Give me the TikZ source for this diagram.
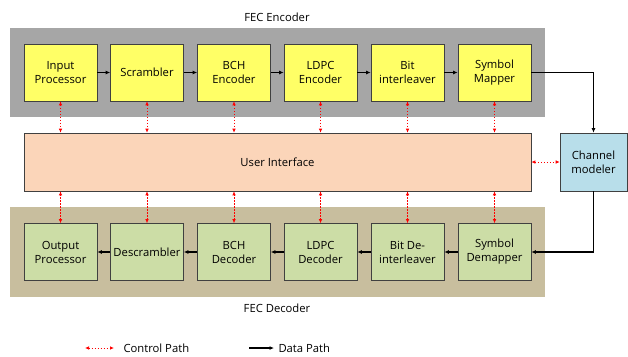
\documentclass[tikz,border=0pt]{standalone}
\usepackage{fontspec}
\setmainfont{Open Sans}
\usetikzlibrary{arrows.meta}
\definecolor{encbg}{HTML}{A6A6A6}
\definecolor{decbg}{HTML}{C8BE9E}
\definecolor{encbox}{HTML}{FFFF66}
\definecolor{decbox}{HTML}{CCDDA6}
\definecolor{uibox}{HTML}{FBD5B9}
\definecolor{chbox}{HTML}{B8DEEA}
\definecolor{ctrl}{HTML}{FF0000}
\begin{document}
\begin{tikzpicture}[x=1bp,y=-1bp,
  every node/.style={font=\fontsize{11.3}{14}\selectfont, align=center},
  blk/.style={draw=black!75, line width=0.6bp, minimum width=73bp, minimum height=57bp, inner sep=0bp},
  encblk/.style={blk, fill=encbox},
  decblk/.style={blk, fill=decbox},
  data/.style={-{Latex[length=4.5bp,width=4bp]}, line width=1.6bp, black},
  ctl/.style={{Latex[length=4bp,width=3.5bp]}-{Latex[length=4bp,width=3.5bp]}, ctrl, dash pattern=on 1.5bp off 1.5bp, line width=0.7bp}
]
\useasboundingbox (0,0) rectangle (628,356);
\fill[white] (0,0) rectangle (628,356);
% backgrounds
\fill[encbg] (10,28) rectangle (545,117);
\fill[decbg] (10,207) rectangle (545,297);
\node (enclbl) at (277,17) {FEC Encoder};
\node (declbl) at (277,308) {FEC Decoder};
% encoder blocks
\node[encblk] (e1) at (60.5,72.5) {Input\\Processor};
\node[encblk] (e2) at (147,72.5) {Scrambler};
\node[encblk] (e3) at (234,72.5) {BCH\\Encoder};
\node[encblk] (e4) at (320.5,72.5) {LDPC\\Encoder};
\node[encblk] (e5) at (407.5,72.5) {Bit\\interleaver};
\node[encblk] (e6) at (494.5,72.5) {Symbol\\Mapper};
% decoder blocks
\node[decblk] (d1) at (60.5,252) {Output\\Processor};
\node[decblk] (d2) at (147,252) {Descrambler};
\node[decblk] (d3) at (234,252) {BCH\\Decoder};
\node[decblk] (d4) at (320.5,252) {LDPC\\Decoder};
\node[decblk] (d5) at (407.5,252) {Bit De-\\interleaver};
\node[decblk] (d6) at (494.5,252) {Symbol\\Demapper};
% user interface
\node[draw=black!75, line width=0.6bp, fill=uibox, minimum width=507bp, minimum height=58bp, inner sep=0bp] (ui) at (277.5,162) {User Interface};
% channel
\node[draw=black!75, line width=0.6bp, fill=chbox, minimum width=67bp, minimum height=58bp, inner sep=0bp] (ch) at (593.5,162) {Channel\\modeler};
% data path
\draw[data] (e1) -- (e2);
\draw[data] (e2) -- (e3);
\draw[data] (e3) -- (e4);
\draw[data] (e4) -- (e5);
\draw[data] (e5) -- (e6);
\draw[data] (d6) -- (d5);
\draw[data] (d5) -- (d4);
\draw[data] (d4) -- (d3);
\draw[data] (d3) -- (d2);
\draw[data] (d2) -- (d1);
\draw[data] (e6.east) -- (ch.north |- e6.east) -- (ch.north);
\draw[data] (ch.south) -- (ch.south |- d6.east) -- (d6.east);
% control paths
\foreach \n in {1,...,6}{
  \draw[ctl] (e\n.south) -- (e\n.south |- ui.north);
  \draw[ctl] (d\n.north) -- (d\n.north |- ui.south);
}
\draw[ctl] (ui.east) -- (ch.west);
% legend
\coordinate (ca) at (85,348);
\coordinate (cb) at (114,348);
\draw[ctl] (ca) -- (cb);
\node[anchor=west] (ctltxt) at (120,348) {Control Path};
\coordinate (da) at (249,348);
\coordinate (db) at (274,348);
\draw[data] (da) -- (db);
\node[anchor=west] (datatxt) at (275,348) {Data Path};
\end{tikzpicture}
\end{document}
